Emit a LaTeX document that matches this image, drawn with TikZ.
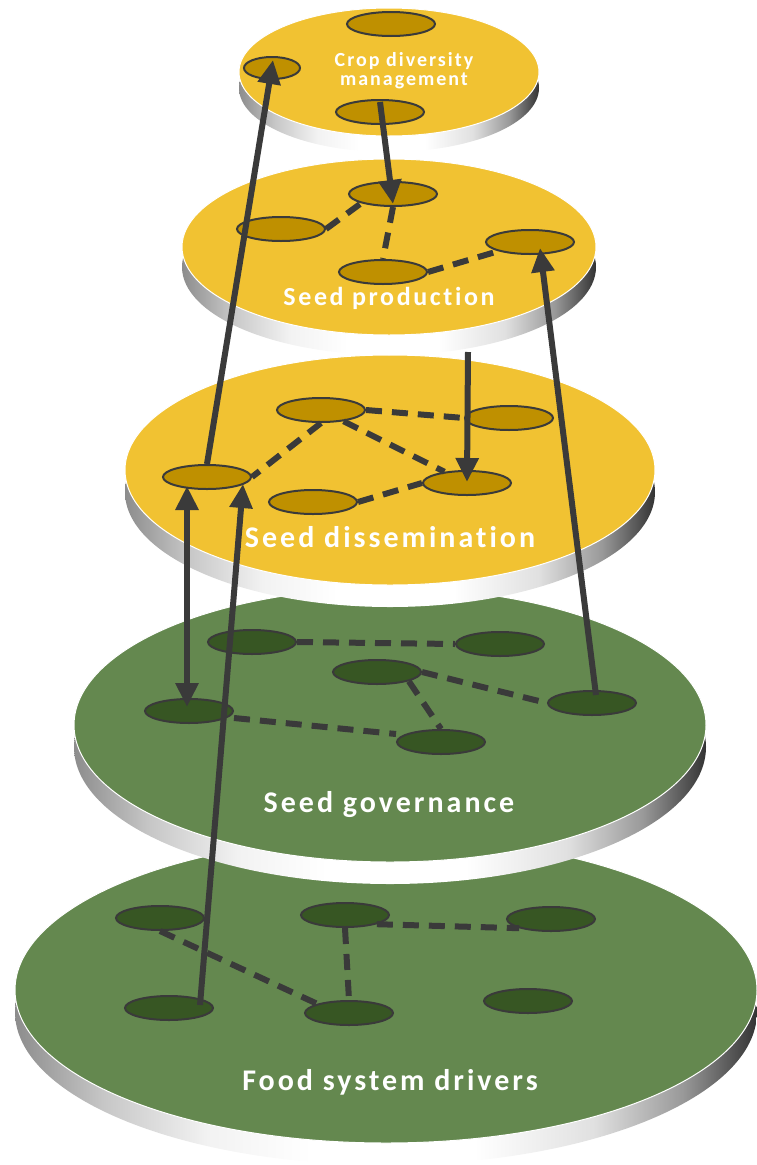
\documentclass[tikz,border=0pt]{standalone}
\usepackage{fontspec}
\newfontfamily\lblfont[LetterSpace=10,Ligatures=NoCommon]{Carlito}
\usetikzlibrary{shapes.geometric,arrows.meta,calc}
\definecolor{yface}{HTML}{F1C232}
\definecolor{ynode}{HTML}{BF9000}
\definecolor{gface}{HTML}{64884F}
\definecolor{gnode}{HTML}{375623}
\definecolor{ink}{HTML}{3A3A3A}
\pgfdeclarehorizontalshading{rim}{100bp}{color(0bp)=(black!45); color(25bp)=(black!45); color(31bp)=(black!22); color(38bp)=(black!5); color(45bp)=(white); color(56bp)=(white); color(64bp)=(black!12); color(70bp)=(black!40); color(75bp)=(black!80); color(100bp)=(black!80)}
\newcommand\mydisc[6]{%
  \shade[shading=rim] (#1,#2+#5) ellipse [x radius=#3, y radius=#4];
  \fill[#6, draw=white, line width=1pt] (#1,#2) ellipse [x radius=#3, y radius=#4];}
\tikzset{
  nd/.style={ellipse, minimum width=88pt, minimum height=24pt, inner sep=0pt, draw=ink, line width=2pt},
  yn/.style={nd, fill=ynode},
  gn/.style={nd, fill=gnode},
  dashline/.style={draw=ink, line width=6pt, dash pattern=on 16pt off 10pt},
  arr/.style={draw=ink, line width=6pt, -{Triangle[length=24pt,width=22pt]}},
  darr/.style={draw=ink, line width=6pt, {Triangle[length=24pt,width=22pt]}-{Triangle[length=24pt,width=22pt]}},
  lbl/.style={text=white, font=\lblfont\bfseries\fontsize{30}{30}\selectfont, inner sep=0pt, align=center}
}
\begin{document}
\begin{tikzpicture}[x=1pt,y=-1pt]
\useasboundingbox (0,0) rectangle (757,1165);
% discs, bottom to top
\mydisc{386}{990}{371}{153}{22}{gface}
\node[lbl] (tF) at (390,1082) {Food system drivers};
\mydisc{390}{725}{316}{137}{22}{gface}
\node[lbl] (tG) at (389,805) {Seed governance};
\mydisc{390}{470}{265}{115}{22}{yface}
\node[lbl] (tD) at (390,537) {Seed dissemination};
\mydisc{389}{247}{207}{88}{20}{yface}
\node[lbl, font=\lblfont\bfseries\fontsize{26}{26}\selectfont] (tP) at (389,298) {Seed production};
\mydisc{389}{72}{150}{64}{16}{yface}
\node[lbl, font=\lblfont\bfseries\fontsize{20}{19}\selectfont] (tC) at (404,71) {Crop diversity\\management};
% nodes
\node[yn] (C1) at (391,24) {};
\node[yn, minimum width=56pt, minimum height=22pt] (C2) at (272,68) {};
\node[yn] (C3) at (380,112) {};
\node[yn] (P1) at (393,194) {};
\node[yn] (P2) at (281,229) {};
\node[yn] (P3) at (383,272) {};
\node[yn] (P4) at (530,242) {};
\node[yn] (D1) at (321,410) {};
\node[yn] (D2) at (509,418) {};
\node[yn] (D3) at (207,477) {};
\node[yn] (D4) at (313,502) {};
\node[yn] (D5) at (467,483) {};
\node[gn] (G1) at (252,642) {};
\node[gn] (G2) at (500,644) {};
\node[gn] (G3) at (377,672) {};
\node[gn] (G4) at (189,711) {};
\node[gn] (G5) at (592,703) {};
\node[gn] (G6) at (441,742) {};
\node[gn] (F1) at (160,918) {};
\node[gn] (F2) at (345,915) {};
\node[gn] (F3) at (551,919) {};
\node[gn] (F4) at (169,1008) {};
\node[gn] (F5) at (349,1013) {};
\node[gn] (F6) at (528,1001) {};
% dashed links
\draw[dashline] (P2.east) -- (P1.south west);
\draw[dashline] (P1.south) -- (P3.north);
\draw[dashline] (P3.east) -- (P4.south west);
\draw[dashline] (D1.east) -- (D2.west);
\draw[dashline] (D1) -- (D5);
\draw[dashline] (D1.south) -- (D3.east);
\draw[dashline] (D4.east) -- (D5.west);
\draw[dashline] (G1.east) -- (G2.west);
\draw[dashline] (G3.east) -- (G5.west);
\draw[dashline] (G3.south east) -- (G6.north);
\draw[dashline] ($(G4.east)+(0,7)$) -- ($(G6.west)+(0,-8)$);
\draw[dashline] (F1.south) -- (F5.north west);
\draw[dashline] (F2.south) -- (F5.north);
\draw[dashline] (F2.south east) -- (F3.south west);
% arrows
\coordinate (pbot) at (468,352);
\draw[arr] (D3.north) -- ($(C2.center)+(1,-8)$);
\draw[arr] ($(C3.center)+(0,-10)$) -- ($(P1.center)+(0,10)$);
\draw[arr] (pbot) -- ($(D5.center)+(0,-1)$);
\draw[arr] ($(G5.center)+(4,-8)$) -- ($(P4.center)+(10,6)$);
\draw[darr] ($(D3.center)+(-20,9)$) -- ($(G4.center)+(-2,-4)$);
\draw[arr] ($(F4.center)+(31,-3)$) -- ($(D3.center)+(36,7)$);
\end{tikzpicture}
\end{document}
